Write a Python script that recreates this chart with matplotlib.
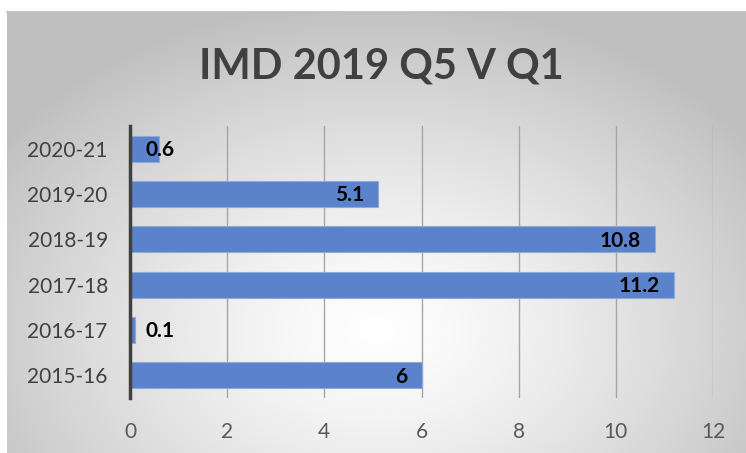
import numpy as np
import matplotlib.pyplot as plt

# data
years = ['2015-16', '2016-17', '2017-18', '2018-19', '2019-20', '2020-21']
values = [6, 0.1, 11.2, 10.8, 5.1, 0.6]
title = 'IMD 2019 Q5 V Q1'

W, H = 746, 453
fig = plt.figure(figsize=(W / 100, H / 100), dpi=100)
fig.patch.set_facecolor('white')

# radial gradient background of the chart area
bx0, by1 = 7 / W, 1 - 12 / H
bg = fig.add_axes([bx0, 0, 1 - bx0, by1], zorder=0)
ny, nx = 300, 500
yy, xx = np.mgrid[0:ny, 0:nx]
cx, cy = 0.50 * nx, 0.72 * ny
d = np.sqrt(((xx - cx) / (0.62 * nx)) ** 2 + ((yy - cy) / (0.75 * ny)) ** 2)
d = np.clip(d, 0, 1)
shade = 1.0 - 0.25 * d ** 1.3
img = np.dstack([shade, shade, shade])
bg.imshow(img, aspect='auto', extent=[0, 1, 0, 1], origin='upper')
bg.set_axis_off()
fig.add_artist(plt.Line2D([bx0, 1], [by1, by1], color='#bdbdbd', lw=1.2,
                          transform=fig.transFigure))

ax = fig.add_axes([130 / W, 1 - 398 / H, (713 - 130) / W, (398 - 126) / H], zorder=2)
ax.patch.set_alpha(0)

y = np.arange(len(years))
ax.barh(y, values, height=0.57, color='#5b83cc', edgecolor='#8eaadb',
        linewidth=0.8, zorder=3)

for yi, v in zip(y, values):
    if v < 1:
        ax.annotate(str(v), (0, yi), xytext=(11, -1), textcoords='offset points',
                    ha='left', va='center', fontsize=15, fontweight='bold',
                    family='Lato', color='black', zorder=4)
    else:
        ax.annotate(f'{v:g}', (v, yi), xytext=(-10, -1), textcoords='offset points',
                    ha='right', va='center', fontsize=15, fontweight='bold',
                    family='Lato', color='black', zorder=4)

ax.set_xlim(0, 12)
ax.set_ylim(-0.5, len(years) - 0.5)
ax.set_xticks(range(0, 13, 2))
ax.set_yticks(y)
ax.set_yticklabels(years)
ax.grid(axis='x', color='#a6a6a6', lw=1, zorder=1)
ax.set_axisbelow(True)
for s in ['top', 'right', 'bottom']:
    ax.spines[s].set_visible(False)
ax.spines['left'].set_color('#404040')
ax.spines['left'].set_linewidth(2.5)
ax.spines['left'].set_zorder(5)
ax.tick_params(axis='x', length=0, pad=17, labelsize=15, labelcolor='#595959')
ax.tick_params(axis='y', length=0, pad=16, labelsize=15, labelcolor='#404040')
for lab in ax.get_xticklabels() + ax.get_yticklabels():
    lab.set_family('Lato')

fig.text(381 / W, 1 - 66 / H, title, ha='center', va='center', fontsize=30,
         fontweight='bold', family='Lato', color='#404040')

fig.savefig('out.png', dpi=100)
